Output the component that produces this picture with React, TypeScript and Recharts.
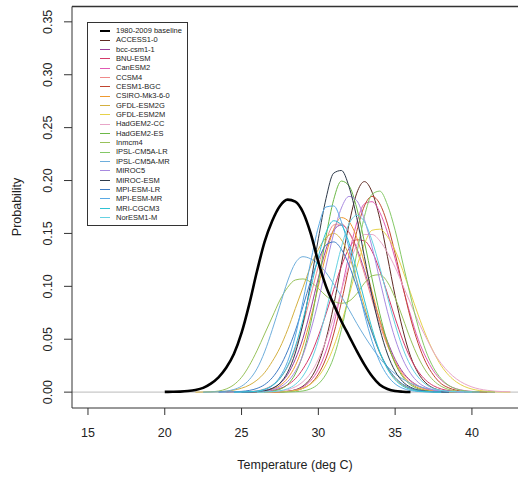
import React from "react";
import { LineChart, Line, XAxis, YAxis, ReferenceLine, Legend } from "recharts";

const FONT = '"Liberation Sans", Arial, Helvetica, sans-serif';

// shared temperature grid (deg C)
const TEMPERATURE = [
  20, 20.5, 21, 21.5, 22, 22.5, 23, 23.5, 24, 24.5, 25, 25.5, 26, 26.5, 27, 27.5,
  28, 28.5, 29, 29.5, 30, 30.5, 31, 31.5, 32, 32.5, 33, 33.5, 34, 34.5, 35, 35.5,
  36, 36.5, 37, 37.5, 38, 38.5, 39, 39.5, 40, 40.5, 41, 41.5, 42, 42.5,
];
const X_TICKS = [15, 20, 25, 30, 35, 40];
const Y_TICKS = [0, 0.05, 0.1, 0.15, 0.2, 0.25, 0.3, 0.35];

// each series: probability values on the grid, beginning at the given start temperature
const BASELINE = [0.0002, 0.0003, 0.0005, 0.001, 0.002, 0.004, 0.008, 0.014, 0.023, 0.036, 0.056, 0.083, 0.114, 0.142, 0.162, 0.176, 0.182, 0.18, 0.17, 0.15, 0.123, 0.1, 0.083, 0.067, 0.053, 0.039, 0.026, 0.015, 0.007, 0.003, 0.001, 0.0004, 0.0001];
const ACCESS1_0 = [0, 0.0001, 0.0002, 0.0008, 0.0022, 0.0057, 0.0131, 0.027, 0.05, 0.082, 0.121, 0.159, 0.188, 0.199, 0.189, 0.164, 0.128, 0.091, 0.059, 0.034, 0.018, 0.0087, 0.0038, 0.0015, 0.0005, 0.0002, 0.0001, 0];
const BCC_CSM1_1 = [0, 0.0001, 0.0002, 0.0005, 0.0015, 0.0036, 0.0081, 0.0166, 0.031, 0.051, 0.078, 0.108, 0.135, 0.153, 0.158, 0.151, 0.136, 0.115, 0.091, 0.068, 0.048, 0.031, 0.019, 0.011, 0.006, 0.003, 0.0015, 0.0007, 0.0003, 0.0001, 0];
const BNU_ESM = [0, 0.0001, 0.0003, 0.0007, 0.0016, 0.0034, 0.0068, 0.0126, 0.022, 0.035, 0.053, 0.074, 0.097, 0.119, 0.136, 0.144, 0.143, 0.133, 0.115, 0.093, 0.07, 0.049, 0.032, 0.0196, 0.0112, 0.006, 0.003, 0.0014, 0.0006, 0.0002, 0.0001, 0];
const CANESM2 = [0, 0.0001, 0.0003, 0.0008, 0.002, 0.0049, 0.0108, 0.0215, 0.039, 0.064, 0.096, 0.13, 0.16, 0.178, 0.18, 0.17, 0.151, 0.126, 0.099, 0.073, 0.05, 0.033, 0.02, 0.0114, 0.0061, 0.0031, 0.0015, 0.0007, 0.0003, 0.0001, 0];
const CCSM4 = [0, 0.0001, 0.0002, 0.0005, 0.0012, 0.003, 0.0065, 0.0131, 0.024, 0.041, 0.064, 0.091, 0.119, 0.143, 0.158, 0.159, 0.151, 0.134, 0.112, 0.087, 0.064, 0.044, 0.029, 0.0176, 0.0101, 0.0054, 0.0028, 0.0013, 0.0006, 0.0002, 0.0001, 0];
const CESM1_BGC = [0, 0.0001, 0.0002, 0.0005, 0.0014, 0.0036, 0.008, 0.017, 0.032, 0.055, 0.085, 0.119, 0.152, 0.176, 0.185, 0.178, 0.159, 0.131, 0.1, 0.07, 0.046, 0.028, 0.016, 0.008, 0.004, 0.0017, 0.0007, 0.0003, 0.0001, 0];
const CSIRO_MK3_6_0 = [0, 0.0001, 0.0004, 0.001, 0.0027, 0.0062, 0.0131, 0.025, 0.044, 0.07, 0.1, 0.13, 0.154, 0.165, 0.161, 0.146, 0.122, 0.095, 0.068, 0.045, 0.028, 0.0158, 0.0083, 0.0041, 0.0018, 0.0008, 0.0003, 0.0001, 0];
const GFDL_ESM2G = [0, 0.0001, 0.0002, 0.0004, 0.0009, 0.0019, 0.0037, 0.0066, 0.0113, 0.0184, 0.029, 0.042, 0.059, 0.079, 0.099, 0.119, 0.135, 0.146, 0.15, 0.144, 0.129, 0.106, 0.081, 0.057, 0.037, 0.023, 0.0128, 0.0066, 0.0032, 0.0014, 0.0006, 0.0002, 0.0001, 0];
const GFDL_ESM2M = [0, 0.0001, 0.0002, 0.0006, 0.0016, 0.0036, 0.0076, 0.0146, 0.026, 0.043, 0.065, 0.091, 0.118, 0.14, 0.153, 0.154, 0.147, 0.134, 0.115, 0.094, 0.073, 0.054, 0.038, 0.025, 0.0158, 0.0095, 0.0054, 0.0029, 0.0015, 0.0007, 0.0003, 0.0001, 0];
const HADGEM2_CC = [0, 0.0001, 0.0002, 0.0004, 0.001, 0.0023, 0.005, 0.0099, 0.018, 0.031, 0.049, 0.071, 0.096, 0.12, 0.139, 0.149, 0.149, 0.143, 0.132, 0.118, 0.101, 0.084, 0.067, 0.052, 0.038, 0.027, 0.0187, 0.0124, 0.008, 0.0049, 0.0029, 0.0017, 0.0009, 0.0005, 0.0003];
const HADGEM2_ES = [0, 0.0001, 0.0003, 0.0009, 0.0027, 0.0073, 0.0172, 0.036, 0.065, 0.104, 0.147, 0.182, 0.1995, 0.195, 0.174, 0.142, 0.107, 0.074, 0.047, 0.027, 0.0144, 0.007, 0.0031, 0.0013, 0.0005, 0.0002, 0.0001, 0];
const INMCM4 = [0, 0.0003, 0.001, 0.003, 0.007, 0.014, 0.025, 0.039, 0.055, 0.071, 0.087, 0.099, 0.106, 0.107, 0.104, 0.098, 0.091, 0.086, 0.084, 0.086, 0.093, 0.103, 0.11, 0.111, 0.104, 0.089, 0.07, 0.05, 0.033, 0.02, 0.011, 0.0055, 0.0025, 0.001, 0.0004, 0.0001, 0];
const IPSL_CM5A_LR = [0, 0.0001, 0.0004, 0.0011, 0.0031, 0.0077, 0.017, 0.033, 0.059, 0.093, 0.131, 0.166, 0.187, 0.19, 0.177, 0.153, 0.122, 0.091, 0.062, 0.039, 0.023, 0.0126, 0.0063, 0.0029, 0.0013, 0.0005, 0.0002, 0.0001, 0];
const IPSL_CM5A_MR = [0, 0.0001, 0.0003, 0.001, 0.0025, 0.0056, 0.0117, 0.022, 0.038, 0.059, 0.082, 0.105, 0.122, 0.128, 0.126, 0.121, 0.113, 0.102, 0.0905, 0.078, 0.065, 0.053, 0.042, 0.032, 0.024, 0.0173, 0.0123, 0.0084, 0.0056, 0.0037, 0.0023, 0.0014, 0.0008, 0.0005, 0.0003, 0.0001, 0];
const MIROC5 = [0, 0.0001, 0.0003, 0.0008, 0.0021, 0.0048, 0.0101, 0.0196, 0.035, 0.058, 0.086, 0.119, 0.15, 0.174, 0.185, 0.181, 0.163, 0.137, 0.106, 0.076, 0.0505, 0.031, 0.0178, 0.0093, 0.0046, 0.0021, 0.0009, 0.0003, 0.0001, 0];
const MIROC_ESM = [0, 0.0001, 0.0004, 0.0013, 0.0035, 0.0085, 0.0188, 0.037, 0.065, 0.103, 0.145, 0.183, 0.207, 0.2095, 0.194, 0.165, 0.128, 0.091, 0.06, 0.036, 0.0198, 0.0099, 0.0046, 0.002, 0.0008, 0.0003, 0.0001, 0];
const MPI_ESM_LR = [0, 0.0001, 0.0003, 0.0007, 0.0016, 0.0035, 0.0071, 0.0136, 0.024, 0.039, 0.058, 0.081, 0.105, 0.125, 0.139, 0.142, 0.135, 0.12, 0.0995, 0.077, 0.056, 0.0375, 0.0236, 0.0138, 0.0075, 0.0038, 0.0018, 0.0008, 0.0003, 0.0001, 0];
const MPI_ESM_MR = [0, 0.0001, 0.0003, 0.0008, 0.0024, 0.0063, 0.0144, 0.029, 0.053, 0.086, 0.123, 0.156, 0.175, 0.176, 0.161, 0.136, 0.105, 0.074, 0.048, 0.0287, 0.0157, 0.0078, 0.0036, 0.0015, 0.0006, 0.0002, 0.0001, 0];
const MRI_CGCM3 = [0, 0.0001, 0.0004, 0.001, 0.0026, 0.0061, 0.0129, 0.0248, 0.043, 0.0685, 0.098, 0.128, 0.151, 0.162, 0.158, 0.141, 0.115, 0.087, 0.06, 0.038, 0.0219, 0.0117, 0.0057, 0.0025, 0.001, 0.0004, 0.0001, 0];
const NORESM1_M = [0, 0.0001, 0.0005, 0.0013, 0.0032, 0.0073, 0.0152, 0.0287, 0.049, 0.0765, 0.1075, 0.137, 0.159, 0.167, 0.161, 0.143, 0.118, 0.09, 0.064, 0.0416, 0.0252, 0.0142, 0.0073, 0.0035, 0.0016, 0.0007, 0.0003, 0.0001, 0];

const SERIES = [
  { key: "s0", name: "1980-2009 baseline", color: "#000000", start: 20, values: BASELINE, width: 2.6 },
  { key: "s1", name: "ACCESS1-0", color: "#5e2a22", start: 26.5, values: ACCESS1_0, width: 1 },
  { key: "s2", name: "bcc-csm1-1", color: "#9a3f9a", start: 24.5, values: BCC_CSM1_1, width: 1 },
  { key: "s3", name: "BNU-ESM", color: "#d43a6a", start: 25, values: BNU_ESM, width: 1 },
  { key: "s4", name: "CanESM2", color: "#e05ab4", start: 26.5, values: CANESM2, width: 1 },
  { key: "s5", name: "CCSM4", color: "#f08a8a", start: 24, values: CCSM4, width: 1 },
  { key: "s6", name: "CESM1-BGC", color: "#c0452f", start: 26.5, values: CESM1_BGC, width: 1 },
  { key: "s7", name: "CSIRO-Mk3-6-0", color: "#ef9a30", start: 25, values: CSIRO_MK3_6_0, width: 1 },
  { key: "s8", name: "GFDL-ESM2G", color: "#d4b040", start: 22, values: GFDL_ESM2G, width: 1 },
  { key: "s9", name: "GFDL-ESM2M", color: "#e6d24a", start: 26.5, values: GFDL_ESM2M, width: 1 },
  { key: "s10", name: "HadGEM2-CC", color: "#e8a6c8", start: 25.5, values: HADGEM2_CC, width: 1 },
  { key: "s11", name: "HadGEM2-ES", color: "#6cb848", start: 25.5, values: HADGEM2_ES, width: 1 },
  { key: "s12", name: "Inmcm4", color: "#98c25a", start: 22.5, values: INMCM4, width: 1 },
  { key: "s13", name: "IPSL-CM5A-LR", color: "#84c866", start: 27.5, values: IPSL_CM5A_LR, width: 1 },
  { key: "s14", name: "IPSL-CM5A-MR", color: "#6eaedc", start: 22.5, values: IPSL_CM5A_MR, width: 1 },
  { key: "s15", name: "MIROC5", color: "#a88ae0", start: 25, values: MIROC5, width: 1 },
  { key: "s16", name: "MIROC-ESM", color: "#2e3a4a", start: 25, values: MIROC_ESM, width: 1 },
  { key: "s17", name: "MPI-ESM-LR", color: "#3f7cc4", start: 23.5, values: MPI_ESM_LR, width: 1 },
  { key: "s18", name: "MPI-ESM-MR", color: "#5aaae4", start: 24.5, values: MPI_ESM_MR, width: 1 },
  { key: "s19", name: "MRI-CGCM3", color: "#2fc2d4", start: 24.5, values: MRI_CGCM3, width: 1 },
  { key: "s20", name: "NorESM1-M", color: "#66d2e2", start: 26, values: NORESM1_M, width: 1 },
];

const ROWS = TEMPERATURE.map((t) => {
  const row: Record<string, number | null> = { t };
  SERIES.forEach((s) => {
    const idx = Math.round((t - s.start) / 0.5);
    row[s.key] = idx >= 0 && idx < s.values.length ? s.values[idx] : null;
  });
  return row;
});

const X_DOMAIN: [number, number] = [13.96, 43.0];
const Y_DOMAIN: [number, number] = [-0.015, 0.3645];

const YTick = (props: any) => {
  const { y, payload } = props;
  return (
    <text x={52.5} y={y} transform={`rotate(-90 52.5 ${y})`} textAnchor="middle" fontSize={12.5} fill="#222" fontFamily={FONT}>
      {Number(payload.value).toFixed(2)}
    </text>
  );
};

const LegendBox = () => (
  <div
    style={{
      width: 101,
      height: 204,
      boxSizing: "border-box",
      border: "1px solid #333",
      background: "#fff",
      paddingTop: 3,
      fontFamily: FONT,
      fontSize: 7.5,
      color: "#222",
    }}
  >
    {SERIES.map((s) => (
      <div key={s.key} style={{ display: "flex", alignItems: "center", height: 9.35, lineHeight: "9.35px", whiteSpace: "nowrap" }}>
        <span
          style={{
            display: "inline-block",
            width: 10,
            height: 0,
            borderTop: `${s.width > 1 ? 2 : 1}px solid ${s.color}`,
            marginLeft: 12,
            marginRight: 6,
          }}
        />
        <span>{s.name}</span>
      </div>
    ))}
  </div>
);

export default function App() {
  const drawOrder = [...SERIES.slice(1), SERIES[0]];
  return (
    <div style={{ position: "absolute", left: 0, top: 0, background: "#fff" }}>
      <LineChart width={518} height={477} data={ROWS} margin={{ top: 6.5, right: 0, bottom: 0, left: 0 }} style={{ fontFamily: FONT }}>
        <XAxis
          dataKey="t"
          type="number"
          domain={X_DOMAIN}
          allowDataOverflow
          ticks={X_TICKS}
          interval={0}
          height={69}
          tickSize={7}
          tickMargin={13}
          stroke="#333"
          tick={{ fontSize: 12.5, fill: "#222", fontFamily: FONT }}
          label={{
            content: () => (
              <text x={295} y={469} textAnchor="middle" fontSize={12.5} fill="#222" fontFamily={FONT}>
                Temperature (deg C)
              </text>
            ),
          }}
        />
        <YAxis
          type="number"
          domain={Y_DOMAIN}
          allowDataOverflow
          ticks={Y_TICKS}
          interval={0}
          width={72}
          tickSize={8}
          stroke="#333"
          tick={<YTick />}
          label={{
            content: () => (
              <text x={21} y={207} transform="rotate(-90 21 207)" textAnchor="middle" fontSize={12.5} fill="#222" fontFamily={FONT}>
                Probability
              </text>
            ),
          }}
        />
        <ReferenceLine y={0} stroke="#c8c8c8" strokeWidth={1.2} />
        <ReferenceLine y={Y_DOMAIN[1]} stroke="#333" strokeWidth={1.3} />
        {drawOrder.map((s) => (
          <Line
            key={s.key}
            dataKey={s.key}
            name={s.name}
            type="monotone"
            stroke={s.color}
            strokeWidth={s.width}
            dot={false}
            activeDot={false}
            connectNulls={false}
            isAnimationActive={false}
          />
        ))}
        <Legend
          layout="vertical"
          align="center"
          verticalAlign="middle"
          wrapperStyle={{ left: 87, top: 22, width: 101, height: 204 }}
          content={() => <LegendBox />}
        />
      </LineChart>
    </div>
  );
}
